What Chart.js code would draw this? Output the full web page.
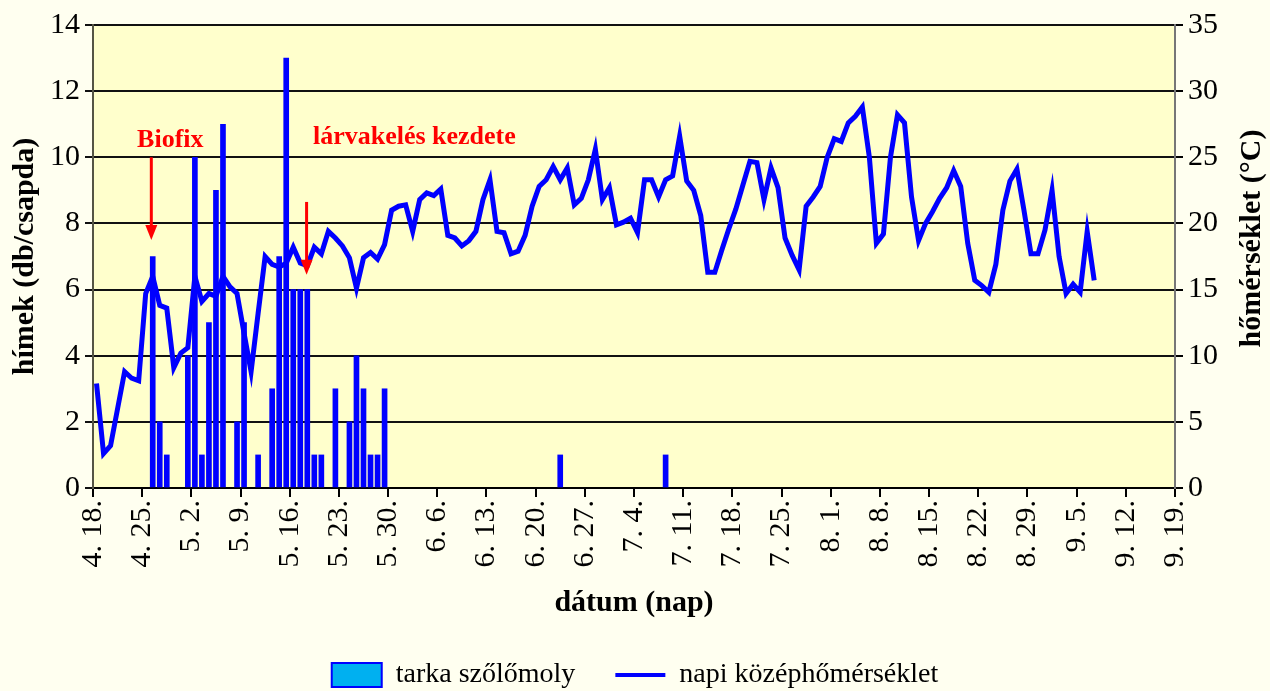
<!DOCTYPE html>
<html lang="hu">
  <head>
    <meta charset="UTF-8" />
    <title>Tarka szőlőmoly rajzása</title>
    <style>
      html,
      body {
        margin: 0;
        padding: 0;
        background: #fffff0;
      }
      #wrap {
        width: 1270px;
        height: 691px;
      }
    </style>
  </head>
  <body>
    <div id="wrap"><canvas id="myChart"></canvas></div>

    <script src="https://cdn.jsdelivr.net/npm/chart.js@4.4.1/dist/chart.umd.min.js"></script>
    <script>
      // x tick labels, one every 7 days starting 4.18 (day 0)
      var tickLabels = [
        "4. 18.", "4. 25.", "5. 2.", "5. 9.", "5. 16.", "5. 23.", "5. 30.",
        "6. 6.", "6. 13.", "6. 20.", "6. 27.", "7. 4.", "7. 11.", "7. 18.",
        "7. 25.", "8. 1.", "8. 8.", "8. 15.", "8. 22.", "8. 29.", "9. 5.",
        "9. 12.", "9. 19."
      ];

      // trap catches: day index (0 = 4.18) and males per trap
      var catchDays = [8, 9, 10, 13, 14, 15, 16, 17, 18, 20, 21, 23, 25, 26, 27,
        28, 29, 30, 31, 32, 34, 36, 37, 38, 39, 40, 41, 66, 81];
      var catchCounts = [7, 2, 1, 4, 10, 1, 5, 9, 11, 2, 5, 1, 3, 7, 13,
        6, 6, 6, 1, 1, 3, 2, 4, 3, 1, 1, 3, 1, 1];

      // daily mean temperature (°C), from 4.18 on
      var dailyTemp = [
        7.9, 2.6, 3.2, 6.0, 8.8, 8.3, 8.1, 14.7, 16.0, 13.8,
        13.6, 9.1, 10.2, 10.6, 16.0, 14.1, 14.7, 14.5, 16.0, 15.2,
        14.7, 11.7, 8.8, 13.2, 17.5, 16.9, 16.7, 17.0, 18.2, 17.0,
        16.8, 18.2, 17.7, 19.4, 18.9, 18.3, 17.4, 15.1, 17.4, 17.8,
        17.3, 18.4, 21.0, 21.3, 21.4, 19.4, 21.8, 22.3, 22.1, 22.6,
        19.1, 18.9, 18.3, 18.7, 19.4, 21.8, 23.3, 19.4, 19.3, 17.7,
        17.9, 19.1, 21.3, 22.8, 23.3, 24.3, 23.3, 24.2, 21.4, 21.9,
        23.3, 25.6, 21.8, 22.7, 19.9, 20.1, 20.4, 19.3, 23.3, 23.3,
        22.0, 23.3, 23.6, 26.6, 23.2, 22.5, 20.6, 16.3, 16.3, 18.0,
        19.6, 21.1, 22.9, 24.7, 24.6, 21.8, 24.2, 22.7, 18.9, 17.6,
        16.5, 21.3, 22.0, 22.8, 25.0, 26.4, 26.2, 27.6, 28.1, 28.8,
        25.0, 18.5, 19.2, 25.0, 28.2, 27.6, 22.0, 18.7, 20.0, 20.9,
        21.9, 22.7, 24.0, 22.8, 18.5, 15.7, 15.3, 14.8, 16.9, 21.0,
        23.2, 24.1, 21.0, 17.7, 17.7, 19.5, 22.5, 17.5, 14.7, 15.4,
        14.8, 19.4, 15.7
      ];

      var serif = '"Liberation Serif", "Times New Roman", serif';
      Chart.defaults.font.family = serif;
      Chart.defaults.color = "#000";

      var catchPoints = catchDays.map(function (d, i) {
        return { x: d + 0.5, y: catchCounts[i] };
      });
      var tempPoints = dailyTemp.map(function (t, i) {
        return { x: i + 0.5, y: t };
      });

      // notes drawn on the plot: text + red arrow (in data units)
      var notes = [
        { text: "Biofix", x: 11, y: 10.5, align: "center", arrowX: 8.3, from: 10, to: 7.5 },
        { text: "lárvakelés kezdete", x: 31.3, y: 10.6, align: "left", arrowX: 30.4, from: 8.65, to: 6.45 }
      ];

      var plotBackground = {
        id: "plotBackground",
        beforeDraw: function (chart) {
          var a = chart.chartArea;
          var ctx = chart.ctx;
          ctx.save();
          ctx.fillStyle = "#ffffcc";
          ctx.fillRect(a.left, a.top, a.right - a.left, a.bottom - a.top);
          ctx.restore();
        }
      };

      var annotations = {
        id: "annotations",
        afterDatasetsDraw: function (chart) {
          var ctx = chart.ctx;
          var xs = chart.scales.x;
          var ys = chart.scales.y;
          ctx.save();
          ctx.fillStyle = "#ff0000";
          ctx.strokeStyle = "#ff0000";
          ctx.lineWidth = 3;
          ctx.font = "bold 26px " + serif;
          ctx.textBaseline = "middle";
          notes.forEach(function (n) {
            ctx.textAlign = n.align;
            ctx.fillText(n.text, xs.getPixelForValue(n.x), ys.getPixelForValue(n.y));

            var ax = xs.getPixelForValue(n.arrowX);
            var y1 = ys.getPixelForValue(n.from);
            var y2 = ys.getPixelForValue(n.to);
            ctx.beginPath();
            ctx.moveTo(ax, y1);
            ctx.lineTo(ax, y2 - 12);
            ctx.stroke();
            ctx.beginPath();
            ctx.moveTo(ax - 6, y2 - 15);
            ctx.lineTo(ax + 6, y2 - 15);
            ctx.lineTo(ax, y2);
            ctx.closePath();
            ctx.fill();
          });
          ctx.restore();
        }
      };

      // right axis title reads bottom-to-top like the left one
      var rightTitle = {
        id: "rightTitle",
        afterDraw: function (chart) {
          var ctx = chart.ctx;
          var a = chart.chartArea;
          ctx.save();
          ctx.translate(chart.scales.y1.right - 18, (a.top + a.bottom) / 2 - 18);
          ctx.rotate(-Math.PI / 2);
          ctx.font = "bold 30px " + serif;
          ctx.fillStyle = "#000";
          ctx.textAlign = "center";
          ctx.textBaseline = "middle";
          ctx.fillText("hőmérséklet (°C)", 0, 0);
          ctx.restore();
        }
      };

      var ctx = document.getElementById("myChart").getContext("2d");
      var myChart = new Chart(ctx, {
        type: "bar",
        data: {
          datasets: [
            {
              type: "bar",
              label: "tarka szőlőmoly",
              data: catchPoints,
              backgroundColor: "#0000ff",
              barThickness: 5,
              yAxisID: "y"
            },
            {
              type: "line",
              label: "napi középhőmérséklet",
              data: tempPoints,
              borderColor: "#0000ff",
              borderWidth: 5,
              pointRadius: 0,
              tension: 0,
              yAxisID: "y1"
            }
          ]
        },
        options: {
          responsive: true,
          maintainAspectRatio: false,
          animation: false,
          layout: { padding: { left: 0, right: 0, top: 25, bottom: -8 } },
          plugins: {
            tooltip: { enabled: false },
            legend: {
              position: "bottom",
              labels: {
                font: { size: 28 },
                color: "#000",
                padding: 40,
                usePointStyle: true,
                pointStyleWidth: 50,
                boxHeight: 24,
                generateLabels: function () {
                  return [
                    { text: "tarka szőlőmoly", fillStyle: "#00b0f0", strokeStyle: "#0000ff", lineWidth: 2, pointStyle: "rect", datasetIndex: 0 },
                    { text: "napi középhőmérséklet", fillStyle: "#0000ff", strokeStyle: "#0000ff", lineWidth: 4, pointStyle: "line", datasetIndex: 1 }
                  ];
                }
              }
            }
          },
          scales: {
            x: {
              type: "linear",
              min: 0,
              max: 154,
              offset: false,
              grid: {
                offset: false,
                drawOnChartArea: false,
                color: "#000",
                lineWidth: 2,
                tickLength: 9
              },
              border: { color: "#000", width: 2 },
              ticks: {
                stepSize: 7,
                autoSkip: false,
                maxRotation: 90,
                minRotation: 90,
                padding: 3,
                font: { size: 30 },
                callback: function (value) {
                  return tickLabels[value / 7];
                }
              },
              title: {
                display: true,
                text: "dátum (nap)",
                font: { size: 30, weight: "bold" },
                padding: 0
              },
              afterFit: function (scale) {
                scale.height = 133;
              }
            },
            y: {
              position: "left",
              min: 0,
              max: 14,
              grid: { color: "#111", lineWidth: 2, tickLength: 8 },
              border: { color: "#555544", width: 2 },
              ticks: { stepSize: 2, padding: 5, font: { size: 30 } },
              title: {
                display: true,
                text: "hímek (db/csapda)",
                font: { size: 30, weight: "bold" },
                padding: { top: 7, bottom: 0 }
              },
              afterFit: function (scale) {
                scale.width = 93;
              }
            },
            y1: {
              position: "right",
              min: 0,
              max: 35,
              grid: { drawOnChartArea: false, color: "#000", lineWidth: 2, tickLength: 8 },
              border: { color: "#777", width: 2 },
              ticks: { stepSize: 5, padding: 5, font: { size: 30 } },
              title: { display: false },
              afterFit: function (scale) {
                scale.width = 95;
              }
            }
          }
        },
        plugins: [plotBackground, annotations, rightTitle]
      });
    </script>
  </body>
</html>
